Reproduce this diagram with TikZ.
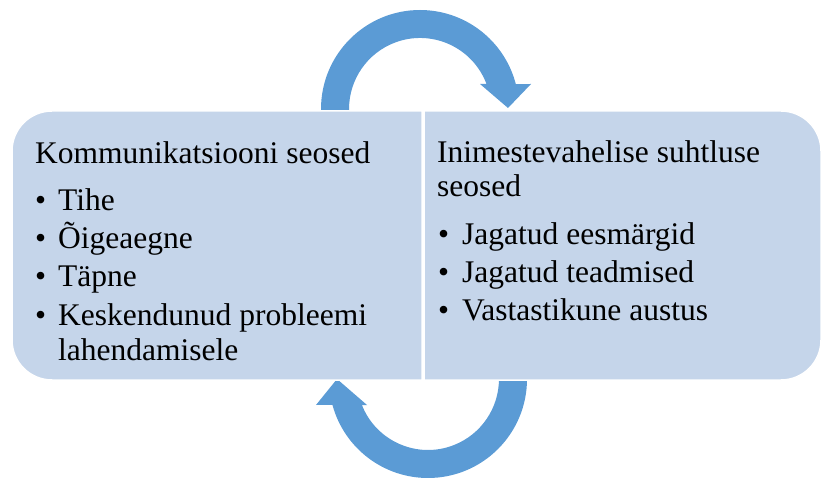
\documentclass[tikz,border=0pt]{standalone}
\usepackage{fontspec}
\setmainfont{Liberation Serif}
\definecolor{boxblue}{HTML}{C5D5EA}
\definecolor{arrowblue}{HTML}{5B9BD5}
\tikzset{
  panel/.style={fill=boxblue,draw=white,line width=1.5pt},
  turn/.style={fill=arrowblue},
  txt/.style={anchor=base west,inner sep=0pt,font=\fontsize{31.5}{37}\selectfont},
}

\begin{document}
\begin{tikzpicture}[x=1pt,y=1pt]
\useasboundingbox (0,0) rectangle (822,477);
% circular arrows, behind the panels
\fill[turn] (321,362) -- (321,368) arc[start angle=180,end angle=14.6,radius=99]
  -- (531,393) -- (508,369) -- (480,393) -- (486.5,393)
  arc[start angle=20.6,end angle=180,radius=71] -- (349,362) -- cycle;
\fill[turn] (527,103) -- (527,98) arc[start angle=0,end angle=-164.8,radius=99]
  -- (316,72) -- (337,98) -- (367,72) -- (361.9,72)
  arc[start angle=-158.5,end angle=0,radius=71] -- (499,103) -- cycle;
% panels
\draw[panel] (422,366) -- (52,366) arc[start angle=90,end angle=180,radius=40]
  -- (12,137) arc[start angle=180,end angle=270,radius=40] -- (422,97) -- cycle;
\draw[panel] (424,366) -- (781,366) arc[start angle=90,end angle=0,radius=40]
  -- (821,137) arc[start angle=0,end angle=-90,radius=40] -- (424,97) -- cycle;
% left text
\node[txt] (kom) at (35,313) {Kommunikatsiooni seosed};
\foreach \n/\yy/\t in {k1/266/Tihe, k2/228/Õigeaegne, k3/190/Täpne, k4/151/Keskendunud probleemi} {
  \node[txt] (b\n) at (35,\yy) {\textbullet};
  \node[txt] (\n) at (58,\yy) {\t};
}
\node[txt] (k5) at (58,117) {lahendamisele};
% right text
\node[txt] (ini) at (437,314) {Inimestevahelise suhtluse};
\node[txt] (ini2) at (437,280) {seosed};
\foreach \n/\yy/\t in {i1/232/Jagatud eesmärgid, i2/194/Jagatud teadmised, i3/157/Vastastikune austus} {
  \node[txt] (b\n) at (438,\yy) {\textbullet};
  \node[txt] (\n) at (462,\yy) {\t};
}
\end{tikzpicture}
\end{document}
